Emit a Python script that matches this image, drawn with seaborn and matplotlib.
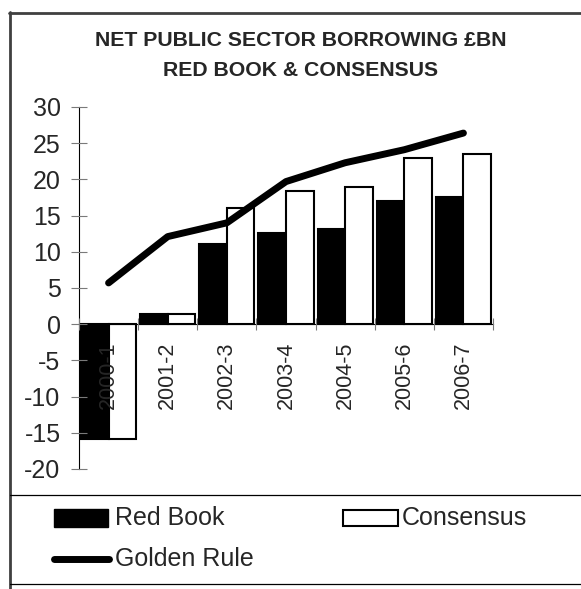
import numpy as np
import pandas as pd
import matplotlib
matplotlib.use("Agg")
import matplotlib.pyplot as plt
from matplotlib.patches import Rectangle
from matplotlib.lines import Line2D
from matplotlib.ticker import FixedLocator
import seaborn as sns

# Net public sector borrowing, £bn
years = ["2000-1", "2001-2", "2002-3", "2003-4", "2004-5", "2005-6", "2006-7"]
red_book = [-15.8, 1.4, 11.1, 12.6, 13.1, 17.0, 17.6]
consensus = [-15.8, 1.4, 16.0, 18.4, 18.9, 22.9, 23.5]
golden_rule = [5.7, 12.1, 14.0, 19.7, 22.3, 24.1, 26.4]
y_ticks = [-20, -15, -10, -5, 0, 5, 10, 15, 20, 25, 30]

sns.set_style("white")
plt.rcParams["font.family"] = ["Liberation Sans", "DejaVu Sans"]

W, H = 581, 589
fig = plt.figure(figsize=(W / 100, H / 100), dpi=100)


def fx(px):
    return px / W


def fy(py):
    return 1 - py / H


ax = fig.add_axes([fx(79), fy(469), (493 - 79) / W, (469 - 107) / H])
ax.set_axisbelow(False)

df = pd.DataFrame({
    "year": years * 2,
    "value": red_book + consensus,
    "series": ["Red Book"] * len(years) + ["Consensus"] * len(years),
})

sns.barplot(data=df, x="year", y="value", hue="series", order=years,
            hue_order=["Red Book", "Consensus"], palette=["black", "white"],
            edgecolor="black", linewidth=1.5, width=0.93, saturation=1,
            legend=False, ax=ax)

sns.lineplot(x=np.arange(len(years)), y=golden_rule, color="black",
             linewidth=5.0, sort=False, ax=ax,
             solid_capstyle="round", solid_joinstyle="round")

ax.set_xlim(-0.5, len(years) - 0.5)
ax.set_ylim(-20, 30)
ax.set_xlabel("")
ax.set_ylabel("")

# spines: left axis and a zero baseline
for s in ["top", "right"]:
    ax.spines[s].set_visible(False)
ax.spines["bottom"].set_position(("data", 0))
for s in ["left", "bottom"]:
    ax.spines[s].set_color("black")
    ax.spines[s].set_linewidth(0.8)

ax.set_yticks(y_ticks)
ax.set_yticklabels([str(v) for v in y_ticks], fontsize=18)
ax.tick_params(axis="y", direction="inout", length=11.5, width=0.8,
               color="#7a7a7a", pad=7.5, left=True)

ax.set_xticks(np.arange(len(years)))
ax.set_xticklabels(years, rotation=90, fontsize=15.5, va="top", ha="center")
ax.xaxis.set_minor_locator(FixedLocator(np.arange(len(years) + 1) - 0.5))
ax.tick_params(axis="x", which="major", length=0, pad=12.5)
ax.tick_params(axis="x", which="minor", direction="inout", length=8.6,
               width=0.8, color="#7a7a7a", bottom=True)
ax.grid(False)

# title
fig.text(fx(301), fy(41), "NET PUBLIC SECTOR BORROWING £BN", ha="center",
         va="center", fontsize=15.3, fontweight="bold")
fig.text(fx(301), fy(70), "RED BOOK & CONSENSUS", ha="center",
         va="center", fontsize=15.3, fontweight="bold")

# outer frame
fig.add_artist(Line2D([fx(9), fx(W)], [fy(12.5), fy(12.5)], color="#404040",
                      linewidth=2, transform=fig.transFigure))
fig.add_artist(Line2D([fx(10), fx(10)], [fy(12), fy(H)], color="#404040",
                      linewidth=2, transform=fig.transFigure))

# legend box
for yy in (495, 584):
    fig.add_artist(Line2D([fx(10), fx(W)], [fy(yy), fy(yy)], color="black",
                          linewidth=0.9, transform=fig.transFigure))

fig.add_artist(Rectangle((fx(54), fy(527)), (108 - 54) / W, 18 / H,
                         facecolor="black", edgecolor="black", linewidth=1,
                         transform=fig.transFigure))
fig.text(fx(115), fy(518), "Red Book", ha="left", va="center", fontsize=18)

fig.add_artist(Rectangle((fx(343), fy(526)), (398 - 343) / W, 16 / H,
                         facecolor="white", edgecolor="black", linewidth=1.5,
                         transform=fig.transFigure))
fig.text(fx(402), fy(518), "Consensus", ha="left", va="center", fontsize=18)

fig.add_artist(Line2D([fx(54), fx(109)], [fy(559), fy(559)], color="black",
                      linewidth=5.0, solid_capstyle="round",
                      transform=fig.transFigure))
fig.text(fx(115), fy(559), "Golden Rule", ha="left", va="center", fontsize=18)

fig.savefig("out.png", dpi=100)
